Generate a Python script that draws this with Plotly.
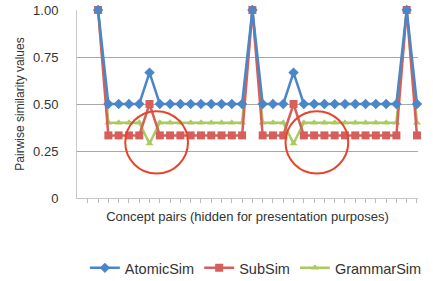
import plotly.graph_objects as go

pairs = list(range(32))
atomic_sim = [1.0, 0.5, 0.5, 0.5, 0.5, 0.667, 0.5, 0.5, 0.5, 0.5, 0.5, 0.5, 0.5, 0.5, 0.5,
              1.0, 0.5, 0.5, 0.5, 0.667, 0.5, 0.5, 0.5, 0.5, 0.5, 0.5, 0.5, 0.5, 0.5, 0.5,
              1.0, 0.5]
sub_sim = [1.0, 0.333, 0.333, 0.333, 0.333, 0.5, 0.333, 0.333, 0.333, 0.333, 0.333, 0.333, 0.333, 0.333, 0.333,
           1.0, 0.333, 0.333, 0.333, 0.5, 0.333, 0.333, 0.333, 0.333, 0.333, 0.333, 0.333, 0.333, 0.333, 0.333,
           1.0, 0.333]
grammar_sim = [1.0, 0.4, 0.4, 0.4, 0.4, 0.29, 0.4, 0.4, 0.4, 0.4, 0.4, 0.4, 0.4, 0.4, 0.4,
               1.0, 0.4, 0.4, 0.4, 0.29, 0.4, 0.4, 0.4, 0.4, 0.4, 0.4, 0.4, 0.4, 0.4, 0.4,
               1.0, 0.4]
y_tick_vals = [0, 0.25, 0.5, 0.75, 1.0]
y_tick_text = ["0", "0.25", "0.50", "0.75", "1.00"]

BLUE = "#4A86C8"
RED = "#D65F5B"
GREEN = "#A9CB5E"
FONT = "Liberation Sans, Arial, sans-serif"

fig = go.Figure()
fig.add_trace(go.Scatter(x=pairs, y=grammar_sim, name="GrammarSim", mode="lines+markers",
                         line=dict(color=GREEN, width=2.5),
                         marker=dict(symbol="triangle-up", size=7, color=GREEN),
                         legendrank=3, cliponaxis=False))
fig.add_trace(go.Scatter(x=pairs, y=sub_sim, name="SubSim", mode="lines+markers",
                         line=dict(color=RED, width=2.5),
                         marker=dict(symbol="square", size=8, color=RED),
                         legendrank=2, cliponaxis=False))
fig.add_trace(go.Scatter(x=pairs, y=atomic_sim, name="AtomicSim", mode="lines+markers",
                         line=dict(color=BLUE, width=2.5),
                         marker=dict(symbol="diamond", size=8, color=BLUE),
                         legendrank=1, cliponaxis=False))

# highlight circles
for cx in (5.69, 21.27):
    fig.add_shape(type="circle", xref="x", yref="y",
                  x0=cx - 3.05, x1=cx + 3.05, y0=0.13, y1=0.462,
                  line=dict(color="#E8442C", width=2))

fig.update_layout(
    width=433, height=281,
    margin=dict(l=77, r=15, t=10, b=83, autoexpand=False),
    paper_bgcolor="white", plot_bgcolor="white",
    font=dict(family=FONT, size=12, color="#333333"),
    showlegend=True,
    legend=dict(orientation="h", x=1.026, xanchor="right", y=-0.372, yanchor="middle",
                font=dict(size=14.5, color="#333333"), itemwidth=30, tracegroupgap=0,
                bgcolor="rgba(0,0,0,0)"),
    xaxis=dict(range=[-2.05, 31.1], tickvals=list(range(-1, 32)), showticklabels=False,
               ticks="outside", ticklen=4, tickcolor="#bbbbbb", showgrid=False,
               showline=True, linecolor="#c8c8c8", linewidth=1, zeroline=False, automargin=False,
               title=dict(text="Concept pairs (hidden for presentation purposes)",
                          font=dict(size=13, color="#333333"), standoff=9)),
    yaxis=dict(range=[0, 1], tickvals=y_tick_vals, ticktext=y_tick_text,
               showgrid=True, gridcolor="#a8a8a8", gridwidth=1, zeroline=False,
               showline=True, linecolor="#c8c8c8", linewidth=1, ticks="", automargin=False,
               ticklabelstandoff=15, tickfont=dict(size=13, color="#333333"),
               title=dict(text="Pairwise similarity values", font=dict(size=12, color="#333333"),
                          standoff=5)),
)

fig.write_html("out.html", config={"displayModeBar": False},
               post_script="document.body.style.margin='0';")
